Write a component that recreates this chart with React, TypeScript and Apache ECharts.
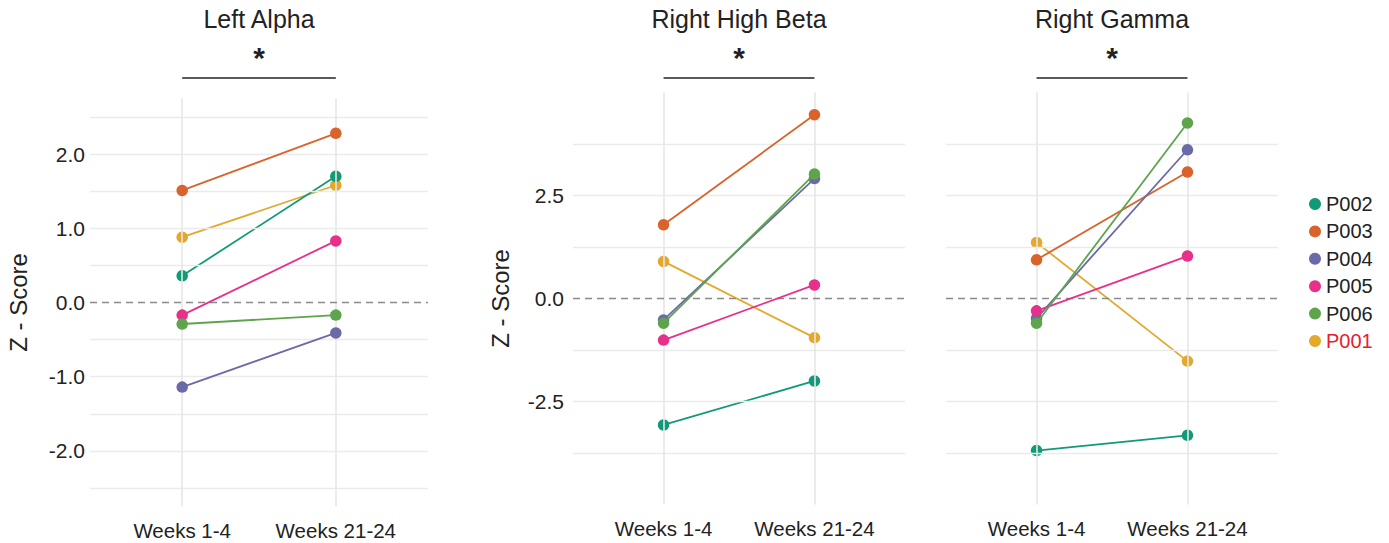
import React, { useEffect, useRef } from "react";
import * as echarts from "echarts";

// Participants in drawing order (P001 first so later ones sit on top)
const PARTICIPANTS = ["P001", "P002", "P003", "P004", "P005", "P006"];
const PARTICIPANT_COLORS = ["#e3a82c", "#109a77", "#d9632b", "#6b6aa9", "#e6308a", "#5ea44d"];
const LEGEND_ORDER = ["P002", "P003", "P004", "P005", "P006", "P001"];
const HIGHLIGHT_LABEL_COLOR = "#e8202c";

// Session positions on the x scale and their labels
const WEEK_POSITIONS = [1, 2];
const WEEK_LABELS = ["Weeks 1-4", "Weeks 21-24"];

const PANEL_TITLES = ["Left Alpha", "Right High Beta", "Right Gamma"];

// Z-scores per participant (P001..P006)
const leftAlphaWeeks1to4 = [0.88, 0.36, 1.51, -1.14, -0.17, -0.29];
const leftAlphaWeeks21to24 = [1.58, 1.7, 2.28, -0.41, 0.83, -0.17];
const rightHighBetaWeeks1to4 = [0.9, -3.07, 1.79, -0.52, -1.01, -0.6];
const rightHighBetaWeeks21to24 = [-0.95, -2.0, 4.46, 2.91, 0.33, 3.02];
const rightGammaWeeks1to4 = [1.36, -3.69, 0.94, -0.48, -0.3, -0.6];
const rightGammaWeeks21to24 = [-1.52, -3.32, 3.07, 3.61, 1.03, 4.26];

// Horizontal reference lines
const leftAlphaGridLines = [-2.5, -2, -1.5, -1, -0.5, 0.5, 1, 1.5, 2, 2.5];
const betaGammaGridLines = [-3.75, -2.5, -1.25, 1.25, 2.5, 3.75];
const ZERO_LINE = 0;

const FONT = "'Liberation Sans', Arial, Helvetica, sans-serif";
const TEXT_COLOR = "#222222";
const GRID_COLOR = "#ebebeb";

type Panel = {
  title: string;
  before: number[];
  after: number[];
  gridLines: number[];
  yMin: number;
  yMax: number;
  yInterval: number;
  labelStep: number | null;
  labelMargin: number;
  nameGap: number;
  rect: { left: number; top: number; width: number; height: number };
};

const panels: Panel[] = [
  {
    title: PANEL_TITLES[0],
    before: leftAlphaWeeks1to4,
    after: leftAlphaWeeks21to24,
    gridLines: leftAlphaGridLines,
    yMin: -2.75,
    yMax: 2.75,
    yInterval: 0.25,
    labelStep: 1,
    labelMargin: 5,
    nameGap: 60,
    rect: { left: 90, top: 98.4, width: 338, height: 408.2 },
  },
  {
    title: PANEL_TITLES[1],
    before: rightHighBetaWeeks1to4,
    after: rightHighBetaWeeks21to24,
    gridLines: betaGammaGridLines,
    yMin: -5,
    yMax: 5,
    yInterval: 1.25,
    labelStep: 2.5,
    labelMargin: 9,
    nameGap: 61,
    rect: { left: 573, top: 92.5, width: 332, height: 412 },
  },
  {
    title: PANEL_TITLES[2],
    before: rightGammaWeeks1to4,
    after: rightGammaWeeks21to24,
    gridLines: betaGammaGridLines,
    yMin: -5,
    yMax: 5,
    yInterval: 1.25,
    labelStep: null,
    labelMargin: 9,
    nameGap: 61,
    rect: { left: 946, top: 92.5, width: 332, height: 412 },
  },
];

const isMultiple = (v: number, step: number) => {
  const q = v / step;
  return Math.abs(q - Math.round(q)) < 1e-6;
};

function buildOption() {
  const grid = panels.map((p) => ({ ...p.rect, containLabel: false, outerBoundsMode: "none" }));

  const xAxis = panels.map((_, i) => ({
    type: "value",
    gridIndex: i,
    min: 0.4,
    max: 2.6,
    interval: 0.2,
    axisLine: { show: false },
    axisTick: { show: false },
    splitLine: { show: false },
    axisLabel: {
      margin: 13,
      fontSize: 20.5,
      fontFamily: FONT,
      color: TEXT_COLOR,
      formatter: (v: number) => {
        const k = WEEK_POSITIONS.findIndex((w) => Math.abs(w - v) < 1e-6);
        return k >= 0 ? WEEK_LABELS[k] : "";
      },
    },
  }));

  const yAxis = panels.map((p, i) => ({
    type: "value",
    gridIndex: i,
    min: p.yMin,
    max: p.yMax,
    interval: p.yInterval,
    axisLine: { show: false },
    axisTick: { show: false },
    splitLine: { show: false },
    name: p.labelStep === null ? "" : "Z - Score",
    nameLocation: "middle",
    nameGap: p.nameGap,
    nameTextStyle: { fontSize: 24, fontFamily: FONT, color: TEXT_COLOR },
    axisLabel: {
      show: p.labelStep !== null,
      margin: p.labelMargin,
      fontSize: 21,
      fontFamily: FONT,
      color: TEXT_COLOR,
      formatter: (v: number) => {
        if (p.labelStep === null) return "";
        const r = Math.round(v * 1000) / 1000;
        // label the inner multiples of the step, never the panel edges
        if (Math.abs(r) >= p.yMax - 1e-6) return "";
        return isMultiple(r, p.labelStep) ? (r === 0 ? 0 : r).toFixed(1) : "";
      },
    },
  }));

  const series: any[] = [];
  panels.forEach((p, i) => {
    // reference lines: horizontal grid, session verticals, dashed zero
    series.push({
      type: "line",
      xAxisIndex: i,
      yAxisIndex: i,
      data: [],
      silent: true,
      z: 1,
      markLine: {
        silent: true,
        symbol: ["none", "none"],
        label: { show: false },
        data: [
          ...p.gridLines.map((v) => ({
            yAxis: v,
            lineStyle: { color: GRID_COLOR, width: 1.3, type: "solid" },
          })),
          ...WEEK_POSITIONS.map((w) => ({
            xAxis: w,
            lineStyle: { color: "#e6e6e6", width: 1.6, type: "solid" },
          })),
          {
            yAxis: ZERO_LINE,
            lineStyle: { color: "#8a8a8a", width: 1.3, type: [7, 5] },
          },
        ],
      },
    });

    PARTICIPANTS.forEach((name, j) => {
      series.push({
        type: "line",
        name,
        xAxisIndex: i,
        yAxisIndex: i,
        z: 3 + j,
        color: PARTICIPANT_COLORS[j],
        symbol: "circle",
        symbolSize: 11.5,
        lineStyle: { width: 1.8, color: PARTICIPANT_COLORS[j] },
        itemStyle: { color: PARTICIPANT_COLORS[j] },
        emphasis: { disabled: true },
        data: [
          [WEEK_POSITIONS[0], p.before[j]],
          [WEEK_POSITIONS[1], p.after[j]],
        ],
      });
    });
  });

  return {
    animation: false,
    backgroundColor: "#ffffff",
    textStyle: { fontFamily: FONT },
    grid,
    xAxis,
    yAxis,
    legend: {
      orient: "vertical",
      left: 1304,
      top: 189,
      itemWidth: 12,
      itemHeight: 12,
      itemGap: 7.4,
      icon: "circle",
      selectedMode: false,
      textStyle: { fontSize: 20, fontFamily: FONT, color: TEXT_COLOR },
      data: LEGEND_ORDER.map((n) =>
        n === "P001" ? { name: n, textStyle: { color: HIGHLIGHT_LABEL_COLOR } } : { name: n }
      ),
    },
    series,
  };
}

export default function App() {
  const ref = useRef<HTMLDivElement>(null);

  useEffect(() => {
    if (!ref.current) return;
    const chart = echarts.init(ref.current, undefined, { renderer: "svg" });
    chart.setOption(buildOption());

    // panel titles, significance bars and stars, placed over each panel's sessions
    const graphic: any[] = [];
    panels.forEach((p, i) => {
      const x1 = chart.convertToPixel({ xAxisIndex: i }, WEEK_POSITIONS[0]) as number;
      const x2 = chart.convertToPixel({ xAxisIndex: i }, WEEK_POSITIONS[1]) as number;
      const cx = p.rect.left + p.rect.width / 2;
      graphic.push(
        {
          type: "text",
          x: cx,
          y: 19,
          style: {
            text: p.title,
            fontSize: 25,
            fontFamily: FONT,
            fill: TEXT_COLOR,
            align: "center",
            verticalAlign: "middle",
          },
        },
        {
          type: "text",
          x: (x1 + x2) / 2,
          y: 57,
          style: {
            text: "*",
            fontSize: 30,
            fontWeight: "bold",
            fontFamily: FONT,
            fill: TEXT_COLOR,
            align: "center",
            verticalAlign: "middle",
          },
        },
        {
          type: "line",
          shape: { x1, y1: 78, x2, y2: 78 },
          style: { stroke: TEXT_COLOR, lineWidth: 1.6 },
        }
      );
    });
    chart.setOption({ graphic });

    return () => chart.dispose();
  }, []);

  return (
    <div
      ref={ref}
      style={{ position: "fixed", left: 0, top: 0, width: 1389, height: 543, background: "#fff" }}
    />
  );
}
